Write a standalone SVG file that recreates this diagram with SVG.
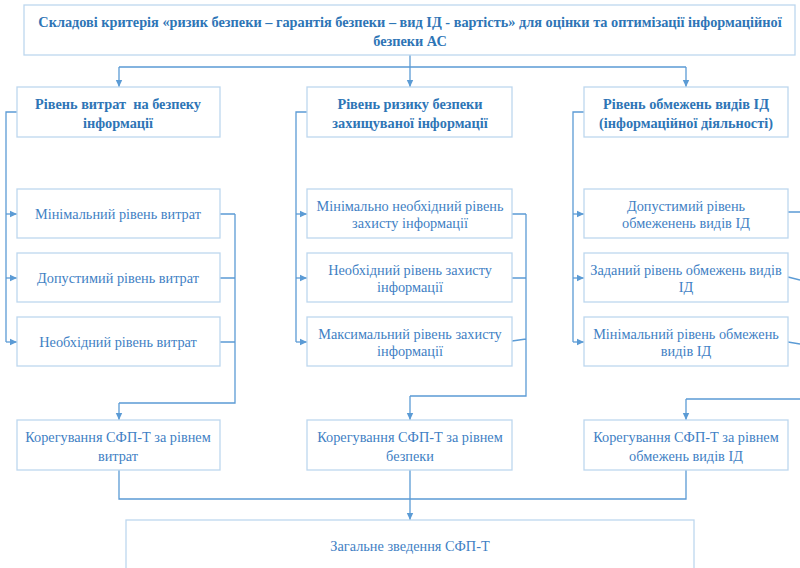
<svg xmlns="http://www.w3.org/2000/svg" width="800" height="568" viewBox="0 0 800 568">
<defs>
<marker id="ah" markerWidth="8" markerHeight="8" refX="7" refY="4" orient="auto" markerUnits="userSpaceOnUse">
<path d="M0,0.8 L7,4 L0,7.2 Z" fill="#5b9bd5"/>
</marker>
<style>
.box{fill:#fff;stroke:#bdd7ee;stroke-width:1.3}
.t{font-family:"Liberation Serif","Times New Roman",serif;font-size:14.3px;fill:#3f7fc4;text-anchor:middle}
.b{font-weight:bold;fill:#2e75b6}
.c{fill:none;stroke:#5b9bd5;stroke-width:1.3}
.a{marker-end:url(#ah)}
</style>
</defs>
<rect width="800" height="568" fill="#fff"/>
<g id="connectors">
<path class="c" d="M410,55 V67 M119,67 H686"/>
<path class="c a" d="M119,67 V87"/>
<path class="c a" d="M410,67 V87"/>
<path class="c a" d="M686,67 V87"/>
<path class="c" d="M17,112 H6 V342"/>
<path class="c a" d="M6,214 H17"/>
<path class="c a" d="M6,278 H17"/>
<path class="c a" d="M6,342 H17"/>
<path class="c" d="M307,112 H296 V342"/>
<path class="c a" d="M296,214 H307"/>
<path class="c a" d="M296,278 H307"/>
<path class="c a" d="M296,342 H307"/>
<path class="c" d="M584,112 H573 V342"/>
<path class="c a" d="M573,214 H584"/>
<path class="c a" d="M573,278 H584"/>
<path class="c a" d="M573,342 H584"/>
<path class="c" d="M220,214 H235 M220,278 H235 M220,342 H235 M235,214 V403 H119"/>
<path class="c a" d="M119,403 V420"/>
<path class="c" d="M512,214 H526 M512,278 H526 M512,341 L526,339 M526,214 V396 H410"/>
<path class="c a" d="M410,396 V420"/>
<path class="c" d="M788,212 H800 M788,277 L800,280 M788,342 L800,344 M800,399 H686"/>
<path class="c a" d="M686,399 V420"/>
<path class="c" d="M119,470 V499 H686 V470 M410,470 V499"/>
<path class="c a" d="M410,499 V520"/>
</g>
<g id="title">
<rect class="box" x="24" y="5" width="771" height="50"/>
<text class="t b" x="410" y="27">Складові критерія «ризик безпеки – гарантія безпеки – вид ІД - вартість» для оцінки та оптимізації інформаційної</text>
<text class="t b" x="410" y="46">безпеки АС</text>
</g>
<g id="h1">
<rect class="box" x="17" y="87" width="203" height="50"/>
<text class="t b" x="118" y="109" style="white-space:pre">Рівень витрат  на безпеку</text>
<text class="t b" x="118" y="128">інформації</text>
</g>
<g id="h2">
<rect class="box" x="307" y="87" width="205" height="50"/>
<text class="t b" x="410" y="109">Рівень ризику безпеки</text>
<text class="t b" x="410" y="128">захищуваної інформації</text>
</g>
<g id="h3">
<rect class="box" x="584" y="87" width="204" height="50"/>
<text class="t b" x="686" y="109">Рівень обмежень видів ІД</text>
<text class="t b" x="686" y="128">(інформаційної діяльності)</text>
</g>
<g id="c1r1">
<rect class="box" x="17" y="189" width="203" height="49"/>
<text class="t" x="118" y="219">Мінімальний рівень витрат</text>
</g>
<g id="c1r2">
<rect class="box" x="17" y="253" width="203" height="49"/>
<text class="t" x="118" y="283">Допустимий рівень витрат</text>
</g>
<g id="c1r3">
<rect class="box" x="17" y="317" width="203" height="49"/>
<text class="t" x="118" y="347">Необхідний рівень витрат</text>
</g>
<g id="c2r1">
<rect class="box" x="307" y="189" width="205" height="49"/>
<text class="t" x="410" y="211">Мінімально необхідний рівень</text>
<text class="t" x="410" y="228">захисту інформації</text>
</g>
<g id="c2r2">
<rect class="box" x="307" y="253" width="205" height="49"/>
<text class="t" x="410" y="275">Необхідний рівень захисту</text>
<text class="t" x="410" y="292">інформації</text>
</g>
<g id="c2r3">
<rect class="box" x="307" y="317" width="205" height="49"/>
<text class="t" x="410" y="339">Максимальний рівень захисту</text>
<text class="t" x="410" y="356">інформації</text>
</g>
<g id="c3r1">
<rect class="box" x="584" y="189" width="204" height="49"/>
<text class="t" x="686" y="211">Допустимий рівень</text>
<text class="t" x="686" y="228">обмеженень видів ІД</text>
</g>
<g id="c3r2">
<rect class="box" x="584" y="253" width="204" height="49"/>
<text class="t" x="686" y="275">Заданий рівень обмежень видів</text>
<text class="t" x="686" y="292">ІД</text>
</g>
<g id="c3r3">
<rect class="box" x="584" y="317" width="204" height="49"/>
<text class="t" x="686" y="339">Мінімальний рівень обмежень</text>
<text class="t" x="686" y="356">видів ІД</text>
</g>
<g id="k1">
<rect class="box" x="17" y="420" width="203" height="50"/>
<text class="t" x="118" y="442">Корегування СФП-Т за рівнем</text>
<text class="t" x="118" y="461">витрат</text>
</g>
<g id="k2">
<rect class="box" x="307" y="420" width="205" height="50"/>
<text class="t" x="410" y="442">Корегування СФП-Т за рівнем</text>
<text class="t" x="410" y="461">безпеки</text>
</g>
<g id="k3">
<rect class="box" x="584" y="420" width="204" height="50"/>
<text class="t" x="686" y="442">Корегування СФП-Т за рівнем</text>
<text class="t" x="686" y="461">обмежень видів ІД</text>
</g>
<g id="total">
<rect class="box" x="126" y="520" width="568" height="60"/>
<text class="t" x="410" y="551">Загальне зведення СФП-Т</text>
</g>
</svg>
